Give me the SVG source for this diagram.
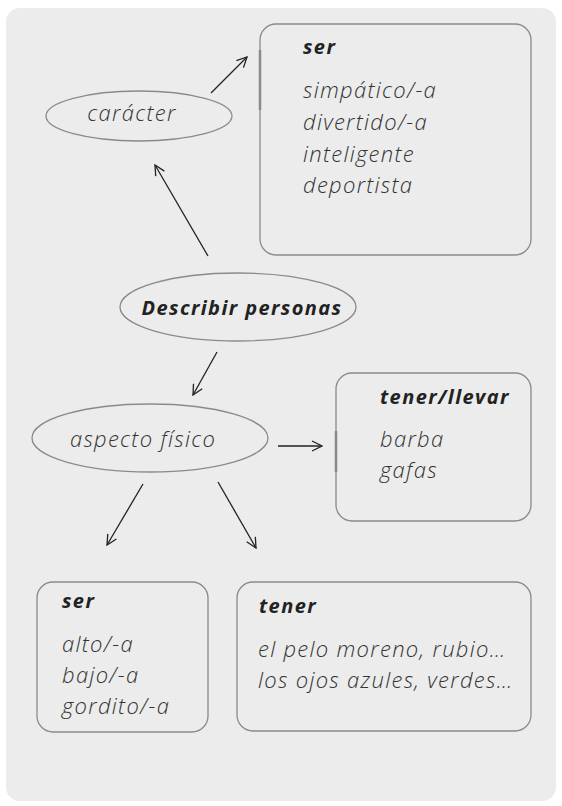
<svg xmlns="http://www.w3.org/2000/svg" width="562" height="806" viewBox="0 0 562 806">
<defs>
<marker id="ah" viewBox="0 0 12 12" refX="11" refY="6" markerWidth="12" markerHeight="12" markerUnits="userSpaceOnUse" orient="auto">
<path d="M1,1 L11,6 L1,11" fill="none" stroke="#222" stroke-width="1.3"/>
</marker>
<style>
.box{fill:none;stroke:#8a8a8a;stroke-width:1.3}
.ell{fill:none;stroke:#8a8a8a;stroke-width:1.3}
.bar{stroke:#8a8a8a;stroke-width:2.5}
.t{font-family:"Open Sans",Lato,sans-serif;font-style:italic;font-weight:300;font-size:22px;letter-spacing:1.3px;fill:#333}
.b{font-family:"Open Sans",Lato,sans-serif;font-style:italic;font-weight:700;font-size:20px;letter-spacing:1.4px;fill:#222}
.c{stroke:#222;stroke-width:1.3;fill:none;marker-end:url(#ah)}
</style>
</defs>
<rect x="6" y="8" width="550" height="793" rx="14" fill="#ebeceb"/>
<g id="caracter">
<ellipse class="ell" cx="139" cy="116" rx="93" ry="25"/>
<text class="t" x="132" y="121" text-anchor="middle">carácter</text>
</g>
<g id="ser-caracter">
<rect class="box" x="260" y="24" width="271" height="231" rx="16"/>
<line class="bar" x1="260" y1="50" x2="260" y2="110"/>
<text class="b" x="303" y="54">ser</text>
<text class="t" x="303" y="98">simpático/-a</text>
<text class="t" x="303" y="130">divertido/-a</text>
<text class="t" x="303" y="162">inteligente</text>
<text class="t" x="303" y="193">deportista</text>
</g>
<g id="describir">
<ellipse class="ell" cx="238" cy="307" rx="118" ry="34"/>
<text class="b" x="242" y="315" text-anchor="middle" font-size="21" letter-spacing="1.8">Describir personas</text>
</g>
<g id="aspecto">
<ellipse class="ell" cx="150" cy="438" rx="118" ry="34"/>
<text class="t" x="143" y="447" text-anchor="middle">aspecto físico</text>
</g>
<g id="tener-llevar">
<rect class="box" x="336" y="373" width="195" height="148" rx="16"/>
<line class="bar" x1="336" y1="431" x2="336" y2="472"/>
<text class="b" x="380" y="404">tener/llevar</text>
<text class="t" x="380" y="447">barba</text>
<text class="t" x="380" y="478">gafas</text>
</g>
<g id="ser-fisico">
<rect class="box" x="37" y="582" width="171" height="150" rx="16"/>
<text class="b" x="62" y="608">ser</text>
<text class="t" x="62" y="652">alto/-a</text>
<text class="t" x="62" y="683">bajo/-a</text>
<text class="t" x="62" y="714">gordito/-a</text>
</g>
<g id="tener">
<rect class="box" x="237" y="582" width="294" height="149" rx="16"/>
<text class="b" x="259" y="613">tener</text>
<text class="t" x="258" y="657">el pelo moreno, rubio…</text>
<text class="t" x="258" y="688">los ojos azules, verdes…</text>
</g>
<g id="connectors">
<line class="c" x1="211" y1="93" x2="247" y2="57"/>
<line class="c" x1="208" y1="256" x2="155" y2="165"/>
<line class="c" x1="217" y1="352" x2="193" y2="395"/>
<line class="c" x1="278" y1="446" x2="322" y2="446"/>
<line class="c" x1="143" y1="484" x2="107" y2="545"/>
<line class="c" x1="218" y1="482" x2="256" y2="548"/>
</g>
</svg>
